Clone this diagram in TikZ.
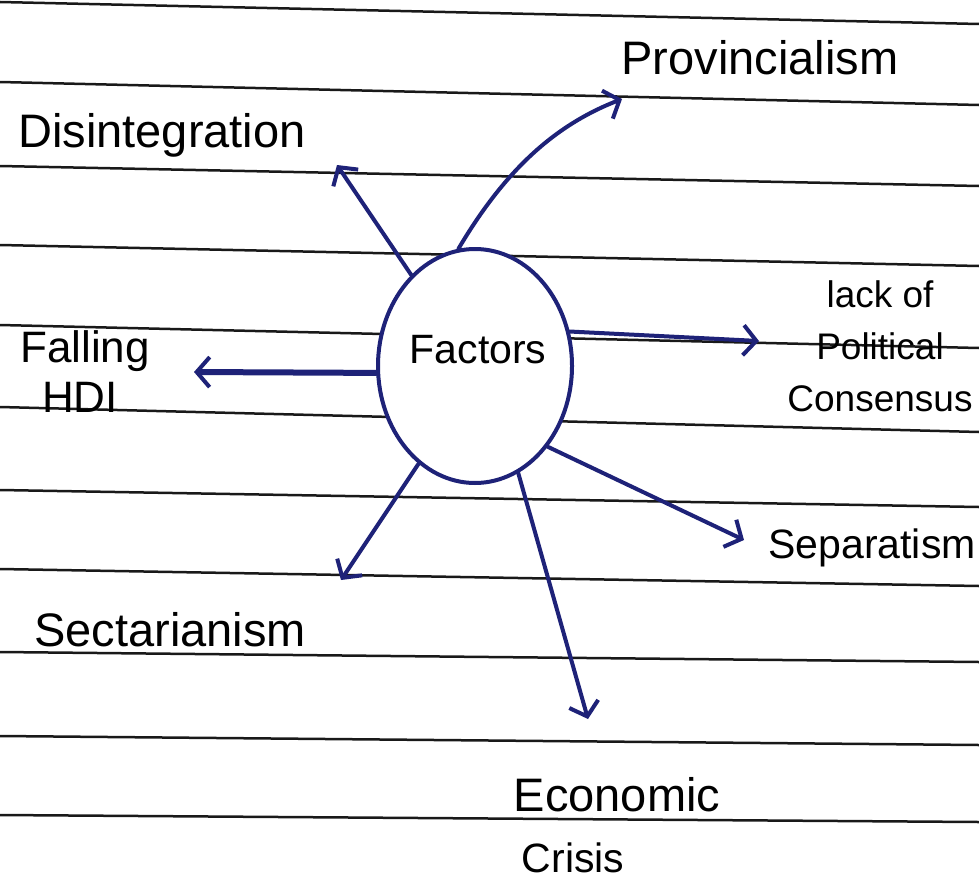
\documentclass[tikz,border=0pt]{standalone}
\usepackage{fontspec}
\setmainfont{Liberation Sans}
\usetikzlibrary{shapes.geometric,arrows.meta}
\definecolor{ink}{RGB}{30,34,120}
\definecolor{ruling}{RGB}{25,25,25}
\begin{document}
\begin{tikzpicture}[x=1pt,y=-1pt,
    word/.style={font=\fontsize{47}{52}\selectfont,inner sep=0pt},
    midword/.style={font=\fontsize{41}{48}\selectfont,inner sep=0pt},
    small/.style={font=\fontsize{37}{52}\selectfont,inner sep=0pt,align=center},
    arr/.style={ink,line width=4pt,line cap=round,
      -{Straight Barb[length=13pt,width=30pt,line width=4pt]}}]
  \useasboundingbox (0,0) rectangle (979,891);
  \fill[white] (0,0) rectangle (979,891);
  \foreach \l/\r in {2/24,82/105,166/186,245/266,325/348,407/432,490/507,569/586,652/662,736/745,815/822}
    \draw[ruling,line width=2.5pt] (0,\l) -- (979,\r);
  \node[ellipse,draw=ink,line width=4pt,fill=white,minimum width=194pt,minimum height=234pt] (factors) at (475,366) {};
  \draw
    (478,350) node[midword] (factorstext) {Factors}
    (760,58) node[word] (prov) {Provincialism}
    (162,135) node[word] (disint) {Disintegration}
    (880,346) node[small] (lack) {lack of\\Political\\Consensus}
    (85,372) node[font=\fontsize{44}{50}\selectfont,inner sep=0pt,align=left] (hdi) {Falling\\\hspace{22pt}HDI}
    (872,548) node[midword] (sep) {Separatism}
    (170,630) node[word] (sect) {Sectarianism}
    (617,795) node[word] (econ) {Economic}
    (573,858) node[midword] (crisis) {Crisis};
  \coordinate (disinttip) at (337,165);
  \coordinate (provtip) at (622,99);
  \coordinate (lacktip) at (759,341);
  \coordinate (hditip) at (194,372);
  \coordinate (septip) at (744,540);
  \coordinate (secttip) at (341,580);
  \coordinate (econtip) at (588,719);
  \begin{scope}[arr]
    \draw (factors.125) to (disinttip);
    \draw (factors.98) .. controls (505,170) and (555,125) .. (provtip);
    \draw (factors.20) to (lacktip);
    \draw[line width=6pt] (factors.184) to (hditip);
    \draw (factors.312) to (septip);
    \draw (factors.240) to (secttip);
    \draw (factors.292) to (econtip);
  \end{scope}
\end{tikzpicture}
\end{document}
